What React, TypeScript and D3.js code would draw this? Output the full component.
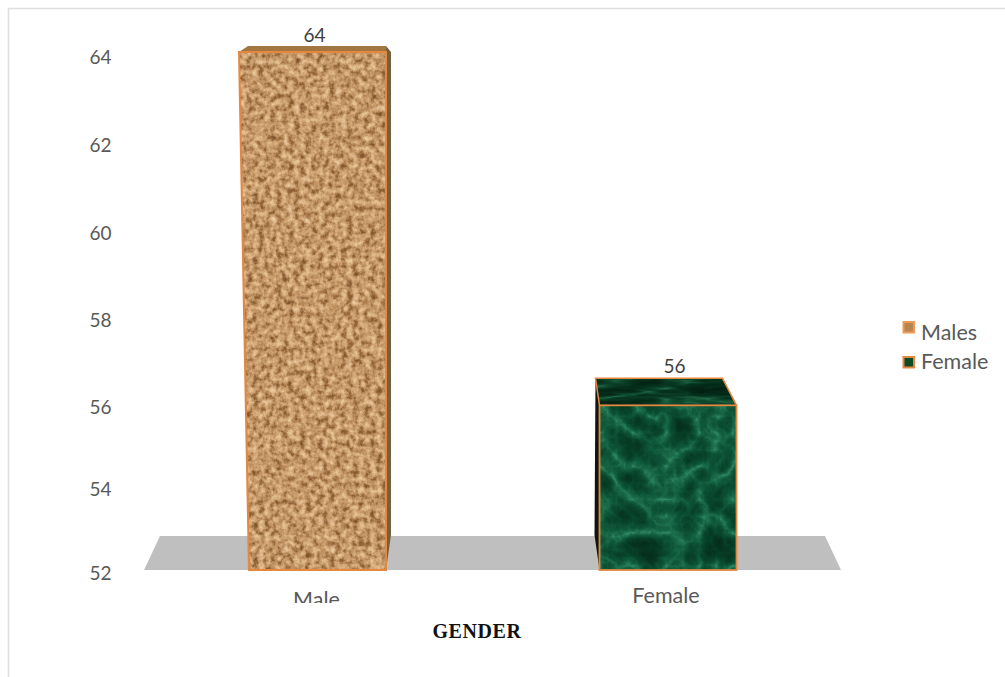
import React from "react";
import * as d3 from "d3";

const categories = ["Male", "Female"];
const values = [64, 56];
const yTicks = [52, 54, 56, 58, 60, 62, 64];
const legendLabels = ["Males", "Female"];
const axisTitle = "GENDER";

const WIDTH = 1005;
const HEIGHT = 677;
const BAR_WIDTH = 137;
const BASE_Y = 570;
const TEXT = "#595959";
const SANS = "Lato, 'Open Sans', sans-serif";
const EDGE = "#e5873f";

const x = d3.scalePoint<string>().domain(categories).range([317.5, 668]);
const y = d3.scaleLinear().domain([52, 64]).range([BASE_Y, 52]);
// The value axis labels sit slightly unevenly down the plot.
const yLabel = d3.scaleLinear().domain(yTicks).range([573, 489, 407, 320, 233, 145, 57]);

// Extrusion of each box: its back face is shifted sideways and upwards.
const depth = [
  { front: 0, back: -6, side: 5, label: -10 },
  { front: 8, back: -19, side: -5, label: -24 },
];

const table = (stops: number[]) => stops.map((v) => (v / 255).toFixed(3)).join(" ");

function Texture({ id, kind, freq, octaves, seed, r, g, b, blur }: {
  id: string; kind: string; freq: string; octaves: number; seed: number;
  r: number[]; g: number[]; b: number[]; blur: number;
}) {
  return (
    <filter id={id} x="0" y="0" width="100%" height="100%" colorInterpolationFilters="sRGB">
      <feTurbulence type={kind} baseFrequency={freq} numOctaves={octaves} seed={seed} result="n" />
      <feColorMatrix in="n" type="matrix" values="0 0 0 1 0 0 0 0 1 0 0 0 0 1 0 0 0 0 0 1" />
      <feComponentTransfer>
        <feFuncR type="table" tableValues={table(r)} />
        <feFuncG type="table" tableValues={table(g)} />
        <feFuncB type="table" tableValues={table(b)} />
      </feComponentTransfer>
      <feGaussianBlur stdDeviation={blur} />
    </filter>
  );
}

const corkStops = {
  r: [120, 128, 150, 186, 208, 224, 234, 238],
  g: [78, 84, 104, 140, 164, 186, 202, 208],
  b: [40, 44, 60, 92, 116, 140, 158, 166],
};
const marbleStops = {
  r: [58, 30, 16, 10, 7, 6, 5, 5],
  g: [148, 112, 90, 74, 62, 52, 46, 40],
  b: [105, 78, 60, 48, 38, 32, 28, 24],
};
const marbleTopStops = {
  r: [40, 20, 10, 6, 4, 4, 3, 3],
  g: [110, 85, 62, 48, 38, 32, 28, 26],
  b: [75, 55, 38, 28, 22, 18, 16, 14],
};

export default function App() {
  const topOf = (i: number) => {
    const cx = x(categories[i]) as number;
    const d = depth[i];
    const left = cx - BAR_WIDTH / 2;
    return { cx, left, right: left + BAR_WIDTH, fy: y(values[i]) + d.front, by: y(values[i]) + d.back, d };
  };
  const male = topOf(0);
  const female = topOf(1);
  const floor = `144,570 160,536 825,536 841,570`;

  return (
    <svg
      width={WIDTH}
      height={HEIGHT}
      style={{ position: "absolute", left: 0, top: 0, background: "#fff", display: "block" }}
    >
      <defs>
        <Texture id="cork" kind="fractalNoise" freq="0.17" octaves={5} seed={9} blur={0.5} {...corkStops} />
        <Texture id="marble" kind="turbulence" freq="0.03" octaves={6} seed={23} blur={0.4} {...marbleStops} />
        <Texture id="marbleTop" kind="turbulence" freq="0.012 0.09" octaves={4} seed={7} blur={0.4} {...marbleTopStops} />
        <clipPath id="categoryClip"><rect x="0" y="570" width={WIDTH} height="33" /></clipPath>
        <clipPath id="maleFront"><polygon points={`${male.left - 10},${male.fy} ${male.right},${male.fy} ${male.right},${BASE_Y} ${male.left},${BASE_Y}`} /></clipPath>
        <clipPath id="femaleFront"><rect x={female.left} y={female.fy} width={BAR_WIDTH} height={BASE_Y - female.fy} /></clipPath>
        <clipPath id="femaleTop"><polygon points={`${female.left - 4},${female.by} ${female.right - 14},${female.by} ${female.right},${female.fy} ${female.left},${female.fy}`} /></clipPath>
      </defs>

      <path d={`M8.5,${HEIGHT} V8.5 H${WIDTH}`} fill="none" stroke="#dedede" strokeWidth="1.6" />
      <polygon points={floor} fill="#bfbfbf" />

      {/* Male box */}
      <polygon
        points={`${male.right},${male.by} ${male.right + male.d.side},${male.fy} ${male.right + male.d.side},${BASE_Y - 35} ${male.right},${BASE_Y}`}
        fill="#75603c"
      />
      <polygon
        points={`${male.left - 10},${male.fy} ${male.left - 1},${male.by} ${male.right},${male.by} ${male.right},${male.fy}`}
        fill="#a27640"
      />
      <g clipPath="url(#maleFront)">
        <rect x={male.left - 10} y={male.fy} width={BAR_WIDTH + 10} height={BASE_Y - male.fy} filter="url(#cork)" />
      </g>
      <polygon
        points={`${male.left - 10},${male.fy} ${male.right},${male.fy} ${male.right},${BASE_Y} ${male.left},${BASE_Y}`}
        fill="none"
        stroke={EDGE}
        strokeWidth="2"
      />

      {/* Female box */}
      <polygon
        points={`${female.left - 4},${female.by} ${female.left},${female.fy} ${female.left},${BASE_Y} ${female.left - 5},${BASE_Y - 35}`}
        fill="#10150f"
      />
      <g clipPath="url(#femaleTop)">
        <rect x={female.left - 4} y={female.by} width={BAR_WIDTH + 4} height={female.fy - female.by} filter="url(#marbleTop)" />
      </g>
      <g clipPath="url(#femaleFront)">
        <rect x={female.left} y={female.fy} width={BAR_WIDTH} height={BASE_Y - female.fy} filter="url(#marble)" />
      </g>
      <rect x={female.left} y={female.fy} width={BAR_WIDTH} height={BASE_Y - female.fy} fill="none" stroke={EDGE} strokeWidth="1.8" />
      <path
        d={`M${female.left},${female.fy} L${female.left - 4},${female.by} H${female.right - 14} L${female.right},${female.fy}`}
        fill="none"
        stroke={EDGE}
        strokeWidth="1.5"
      />

      {/* Value labels */}
      {values.map((v, i) => {
        const t = topOf(i);
        return (
          <text key={v} x={t.cx - 3 + i * 9.5} y={y(v) + t.d.label} textAnchor="middle" fontFamily={SANS} fontSize="19" fill="#404040">
            {v}
          </text>
        );
      })}

      {/* Value axis labels */}
      {yTicks.map((t) => (
        <text key={t} x="100.5" y={yLabel(t)} dy="0.35em" textAnchor="middle" fontFamily={SANS} fontSize="19" fill={TEXT}>
          {t}
        </text>
      ))}

      {/* Category labels; the lower edge of the row is cut off by the plot area */}
      <g clipPath="url(#categoryClip)">
        {categories.map((c, i) => (
          <text key={c} x={(x(c) as number) - (i === 0 ? 1 : 2)} y={i === 0 ? 607 : 603} textAnchor="middle" fontFamily={SANS} fontSize="21.5" fill={TEXT}>
            {c}
          </text>
        ))}
      </g>

      <text x="477" y="638" textAnchor="middle" fontFamily="'Liberation Serif', serif" fontWeight="bold" fontSize="20" letterSpacing="0.6" fill="#111">
        {axisTitle}
      </text>

      {/* Legend */}
      {legendLabels.map((l, i) => {
        const ly = [332, 361][i];
        return (
          <g key={l}>
            <rect x="903.5" y={[322, 357][i]} width="10.5" height="10.5" fill={i === 0 ? "#b8854f" : "#0f4a28"} stroke={i === 0 ? "#f09a55" : EDGE} strokeWidth="2" />
            <text x="921" y={ly} dy="0.35em" fontFamily={SANS} fontSize="21.5" fill={TEXT}>
              {l}
            </text>
          </g>
        );
      })}
    </svg>
  );
}
